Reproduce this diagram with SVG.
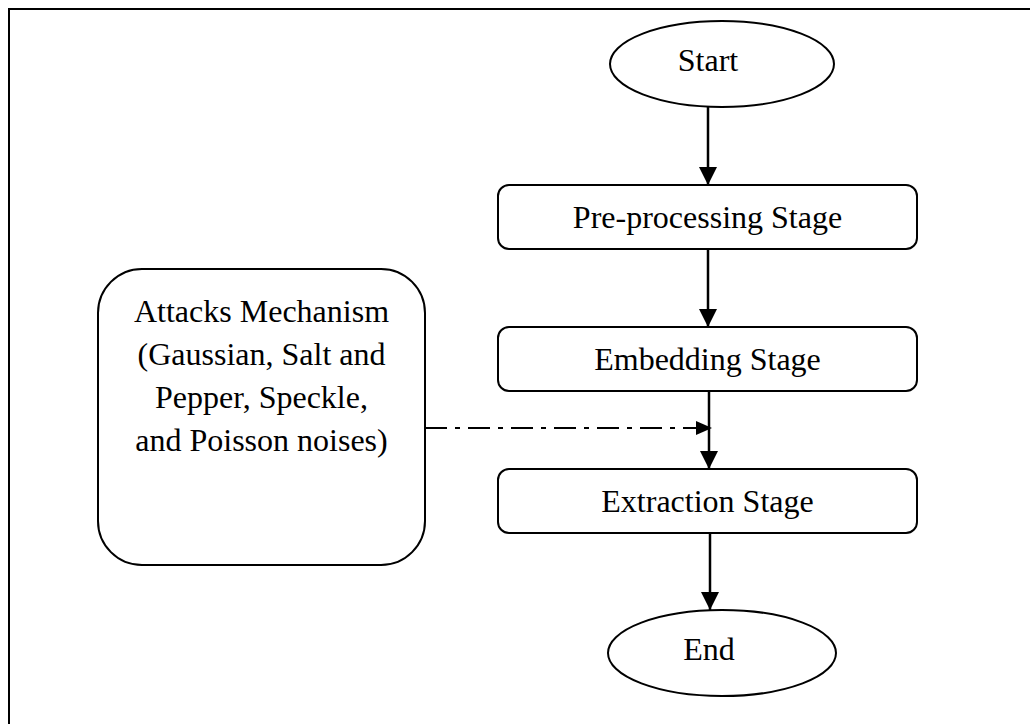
<svg xmlns="http://www.w3.org/2000/svg" width="1030" height="724" viewBox="0 0 1030 724">
<style>
  .node { fill: #fff; stroke: #000; stroke-width: 2; }
  .lbl { font-family: "Liberation Serif", "Times New Roman", serif; font-size: 32px; fill: #000; text-anchor: middle; }
  .flow { stroke: #000; stroke-width: 2.5; fill: none; }
  .dash { stroke: #000; stroke-width: 2; fill: none; stroke-dasharray: 22 8 5 8; }
  .frame { stroke: #000; stroke-width: 2; fill: none; }
</style>
<defs>
  <marker id="ah" markerUnits="userSpaceOnUse" markerWidth="18" markerHeight="18" viewBox="0 0 18 18" refX="18" refY="9" orient="auto">
    <path d="M0,0 L18,9 L0,18 Z" fill="#000"/>
  </marker>
  <marker id="ah2" markerUnits="userSpaceOnUse" markerWidth="16" markerHeight="16" viewBox="0 0 16 16" refX="16" refY="8" orient="auto">
    <path d="M0,1 L16,8 L0,15 Z" fill="#000"/>
  </marker>
</defs>
<rect width="1030" height="724" fill="#fff"/>
<path class="frame" d="M9,724 L9,9 L1030,9"/>

<g id="connectors">
  <line class="flow" x1="708" y1="107" x2="708" y2="185" marker-end="url(#ah)"/>
  <line class="flow" x1="708" y1="249" x2="708" y2="327" marker-end="url(#ah)"/>
  <line class="flow" x1="709" y1="391" x2="709" y2="469" marker-end="url(#ah)"/>
  <line class="flow" x1="710" y1="533" x2="710" y2="610" marker-end="url(#ah)"/>
  <line class="dash" x1="425" y1="428" x2="712" y2="428" marker-end="url(#ah2)"/>
</g>

<g id="start">
  <ellipse class="node" cx="722" cy="64" rx="112" ry="43"/>
  <text class="lbl" x="708" y="71">Start</text>
</g>
<g id="preprocessing">
  <rect class="node" x="498" y="185" width="419" height="64" rx="11"/>
  <text class="lbl" x="707.5" y="228">Pre-processing Stage</text>
</g>
<g id="embedding">
  <rect class="node" x="498" y="327" width="419" height="64" rx="11"/>
  <text class="lbl" x="707.5" y="370">Embedding Stage</text>
</g>
<g id="extraction">
  <rect class="node" x="498" y="469" width="419" height="64" rx="11"/>
  <text class="lbl" x="707.5" y="512">Extraction Stage</text>
</g>
<g id="end">
  <ellipse class="node" cx="722" cy="653" rx="114" ry="43"/>
  <text class="lbl" x="709" y="660">End</text>
</g>
<g id="attacks">
  <rect class="node" x="98" y="269" width="327" height="296" rx="44"/>
  <text class="lbl" x="261.5" y="322">Attacks Mechanism</text>
  <text class="lbl" x="261.5" y="365">(Gaussian, Salt and</text>
  <text class="lbl" x="261.5" y="408">Pepper, Speckle,</text>
  <text class="lbl" x="261.5" y="451">and Poisson noises)</text>
</g>
</svg>
